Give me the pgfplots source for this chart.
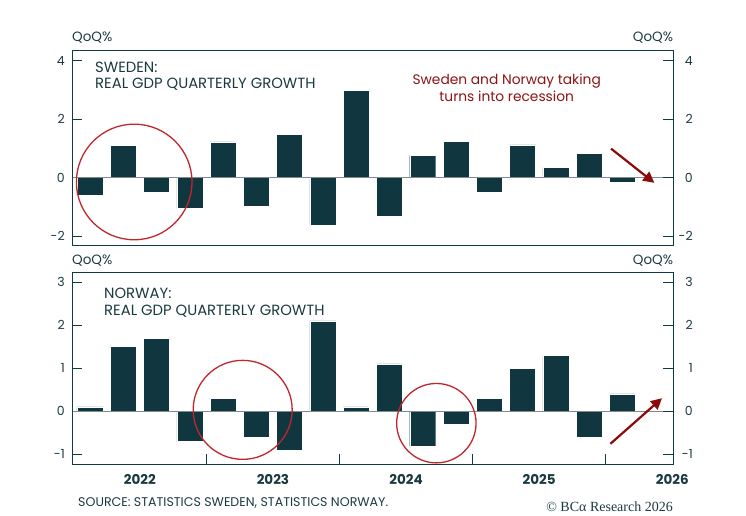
\documentclass[border=0pt]{standalone}
\usepackage{pgfplots}
\pgfplotsset{compat=1.18}
\usepackage{fontspec}
\setmainfont{Poppins}
\newfontfamily\serifcr{Liberation Serif}
\usetikzlibrary{arrows.meta}
\definecolor{barc}{HTML}{10363F}
\definecolor{frame}{HTML}{123A43}
\definecolor{txt}{HTML}{1B3A40}
\definecolor{circ}{HTML}{C0272D}
\definecolor{arr}{HTML}{8B0A0A}
\definecolor{ann}{HTML}{8B1414}
\definecolor{zl}{HTML}{7F8C8F}
\pgfplotsset{
  base/.style={
    width=601pt, scale only axis, clip=false,
    xmin=-0.53, xmax=17.53,
    axis line style={draw=frame, line width=1pt},
    tick align=inside, major tick length=10pt,
    tick style={draw=frame, line width=1pt},
    yticklabel style={inner sep=0pt, font=\fontsize{12.5}{14}\selectfont, text=txt},
  },
  leftax/.style={base, ytick pos=left,
    yticklabel style={anchor=east, xshift=-7.3pt}},
  rightax/.style={base, ytick pos=right, yticklabel pos=right,
    yticklabel style={anchor=east, xshift=19.7pt}},
}
\begin{document}
\begin{tikzpicture}[x=1pt,y=1pt]
\useasboundingbox (0,0) rectangle (746,-516);
% ---------------- Sweden ----------------
\begin{axis}[leftax, at={(72.3pt,-51pt)}, anchor=north west, height=194.7pt,
  ymin=-2.33, ymax=4.33, ytick={-2,0,2,4}, yticklabels={-2,0,2,4}, xtick=\empty]
\addplot[ybar, bar width=0.78, fill=barc, draw=white, line width=0.4pt] coordinates {
(0,-0.60) (1,1.10) (2,-0.51) (3,-1.06) (4,1.22) (5,-0.98) (6,1.47) (7,-1.63)
(8,2.98) (9,-1.32) (10,0.76) (11,1.23) (12,-0.49) (13,1.12) (14,0.35) (15,0.82) (16,-0.16)};
\addplot[zl, line width=0.8pt] coordinates {(-0.53,0) (17.53,0)};
\draw[circ, line width=1.3pt] (axis cs:1.33,-0.15) circle[radius=57.8pt];
\draw[arr, line width=2.2pt, -{Triangle[length=11pt,width=11pt]}] (axis cs:15.66,0.99) -- (axis cs:16.96,-0.18);
\end{axis}
\begin{axis}[rightax, at={(72.3pt,-51pt)}, anchor=north west, height=194.7pt,
  ymin=-2.33, ymax=4.33, ytick={-2,0,2,4}, yticklabels={-2,0,2,4}, xtick=\empty]
\end{axis}
% ---------------- Norway ----------------
\begin{axis}[leftax, at={(72.3pt,-272.3pt)}, anchor=north west, height=191.7pt,
  ymin=-1.23, ymax=3.23, ytick={-1,0,1,2,3}, yticklabels={-1,0,1,2,3},
  xtick={3.5,7.5,11.5,15.5}, xticklabels={}, xtick pos=bottom,
  extra x ticks={1.5,5.5,9.5,13.5,17.5},
  extra x tick labels={2022,2023,2024,2025,2026},
  extra x tick style={major tick length=0pt, tick style={draw=none},
    xticklabel style={anchor=base, yshift=-20.3pt, inner sep=0pt, text=txt,
      font=\fontsize{13.5}{15}\selectfont\bfseries}}]
\addplot[ybar, bar width=0.78, fill=barc, draw=white, line width=0.4pt] coordinates {
(0,0.10) (1,1.50) (2,1.70) (3,-0.71) (4,0.29) (5,-0.60) (6,-0.91) (7,2.10)
(8,0.10) (9,1.10) (10,-0.81) (11,-0.30) (12,0.30) (13,1.00) (14,1.30) (15,-0.60) (16,0.40)};
\addplot[zl, line width=0.8pt] coordinates {(-0.53,0) (17.53,0)};
\draw[circ, line width=1.3pt] (axis cs:4.59,0.03) circle[radius=49.5pt];
\draw[circ, line width=1.3pt] (axis cs:10.41,-0.28) circle[radius=39.7pt];
\draw[arr, line width=2.2pt, -{Triangle[length=11pt,width=11pt]}] (axis cs:15.64,-0.76) -- (axis cs:17.19,0.30);
\end{axis}
\begin{axis}[rightax, at={(72.3pt,-272.3pt)}, anchor=north west, height=191.7pt,
  ymin=-1.23, ymax=3.23, ytick={-1,0,1,2,3}, yticklabels={-1,0,1,2,3}, xtick=\empty]
\end{axis}
% ---------------- texts ----------------
\begin{scope}[every node/.style={inner sep=0pt, text=txt}]
\node[anchor=base west, font=\fontsize{13.5}{15}\selectfont] at (72,-42) {QoQ\%};
\node[anchor=base east, font=\fontsize{13.5}{15}\selectfont] at (673.3,-42) {QoQ\%};
\node[anchor=base west, font=\fontsize{13.5}{15}\selectfont] at (72,-264) {QoQ\%};
\node[anchor=base east, font=\fontsize{13.5}{15}\selectfont] at (673.3,-264) {QoQ\%};
\node[anchor=base west, font=\fontsize{14.8}{16}\selectfont] at (95,-72.3) {SWEDEN:};
\node[anchor=base west, font=\fontsize{14.8}{16}\selectfont] at (95,-88.7) {REAL GDP QUARTERLY GROWTH};
\node[anchor=base west, font=\fontsize{14.8}{16}\selectfont] at (104,-298.3) {NORWAY:};
\node[anchor=base west, font=\fontsize{14.8}{16}\selectfont] at (104,-315) {REAL GDP QUARTERLY GROWTH};
\node[anchor=base, font=\fontsize{13.8}{15}\selectfont, text=ann] at (506.7,-85) {Sweden and Norway taking};
\node[anchor=base, font=\fontsize{13.8}{15}\selectfont, text=ann] at (506.7,-101.7) {turns into recession};
\node[anchor=base west, font=\fontsize{12.6}{14}\selectfont] at (78,-506) {SOURCE: STATISTICS SWEDEN, STATISTICS NORWAY.};
\node[anchor=base east, font=\fontsize{14}{16}\selectfont\serifcr] at (673,-511.7) {© BCα Research 2026};
\end{scope}
\end{tikzpicture}
\end{document}
